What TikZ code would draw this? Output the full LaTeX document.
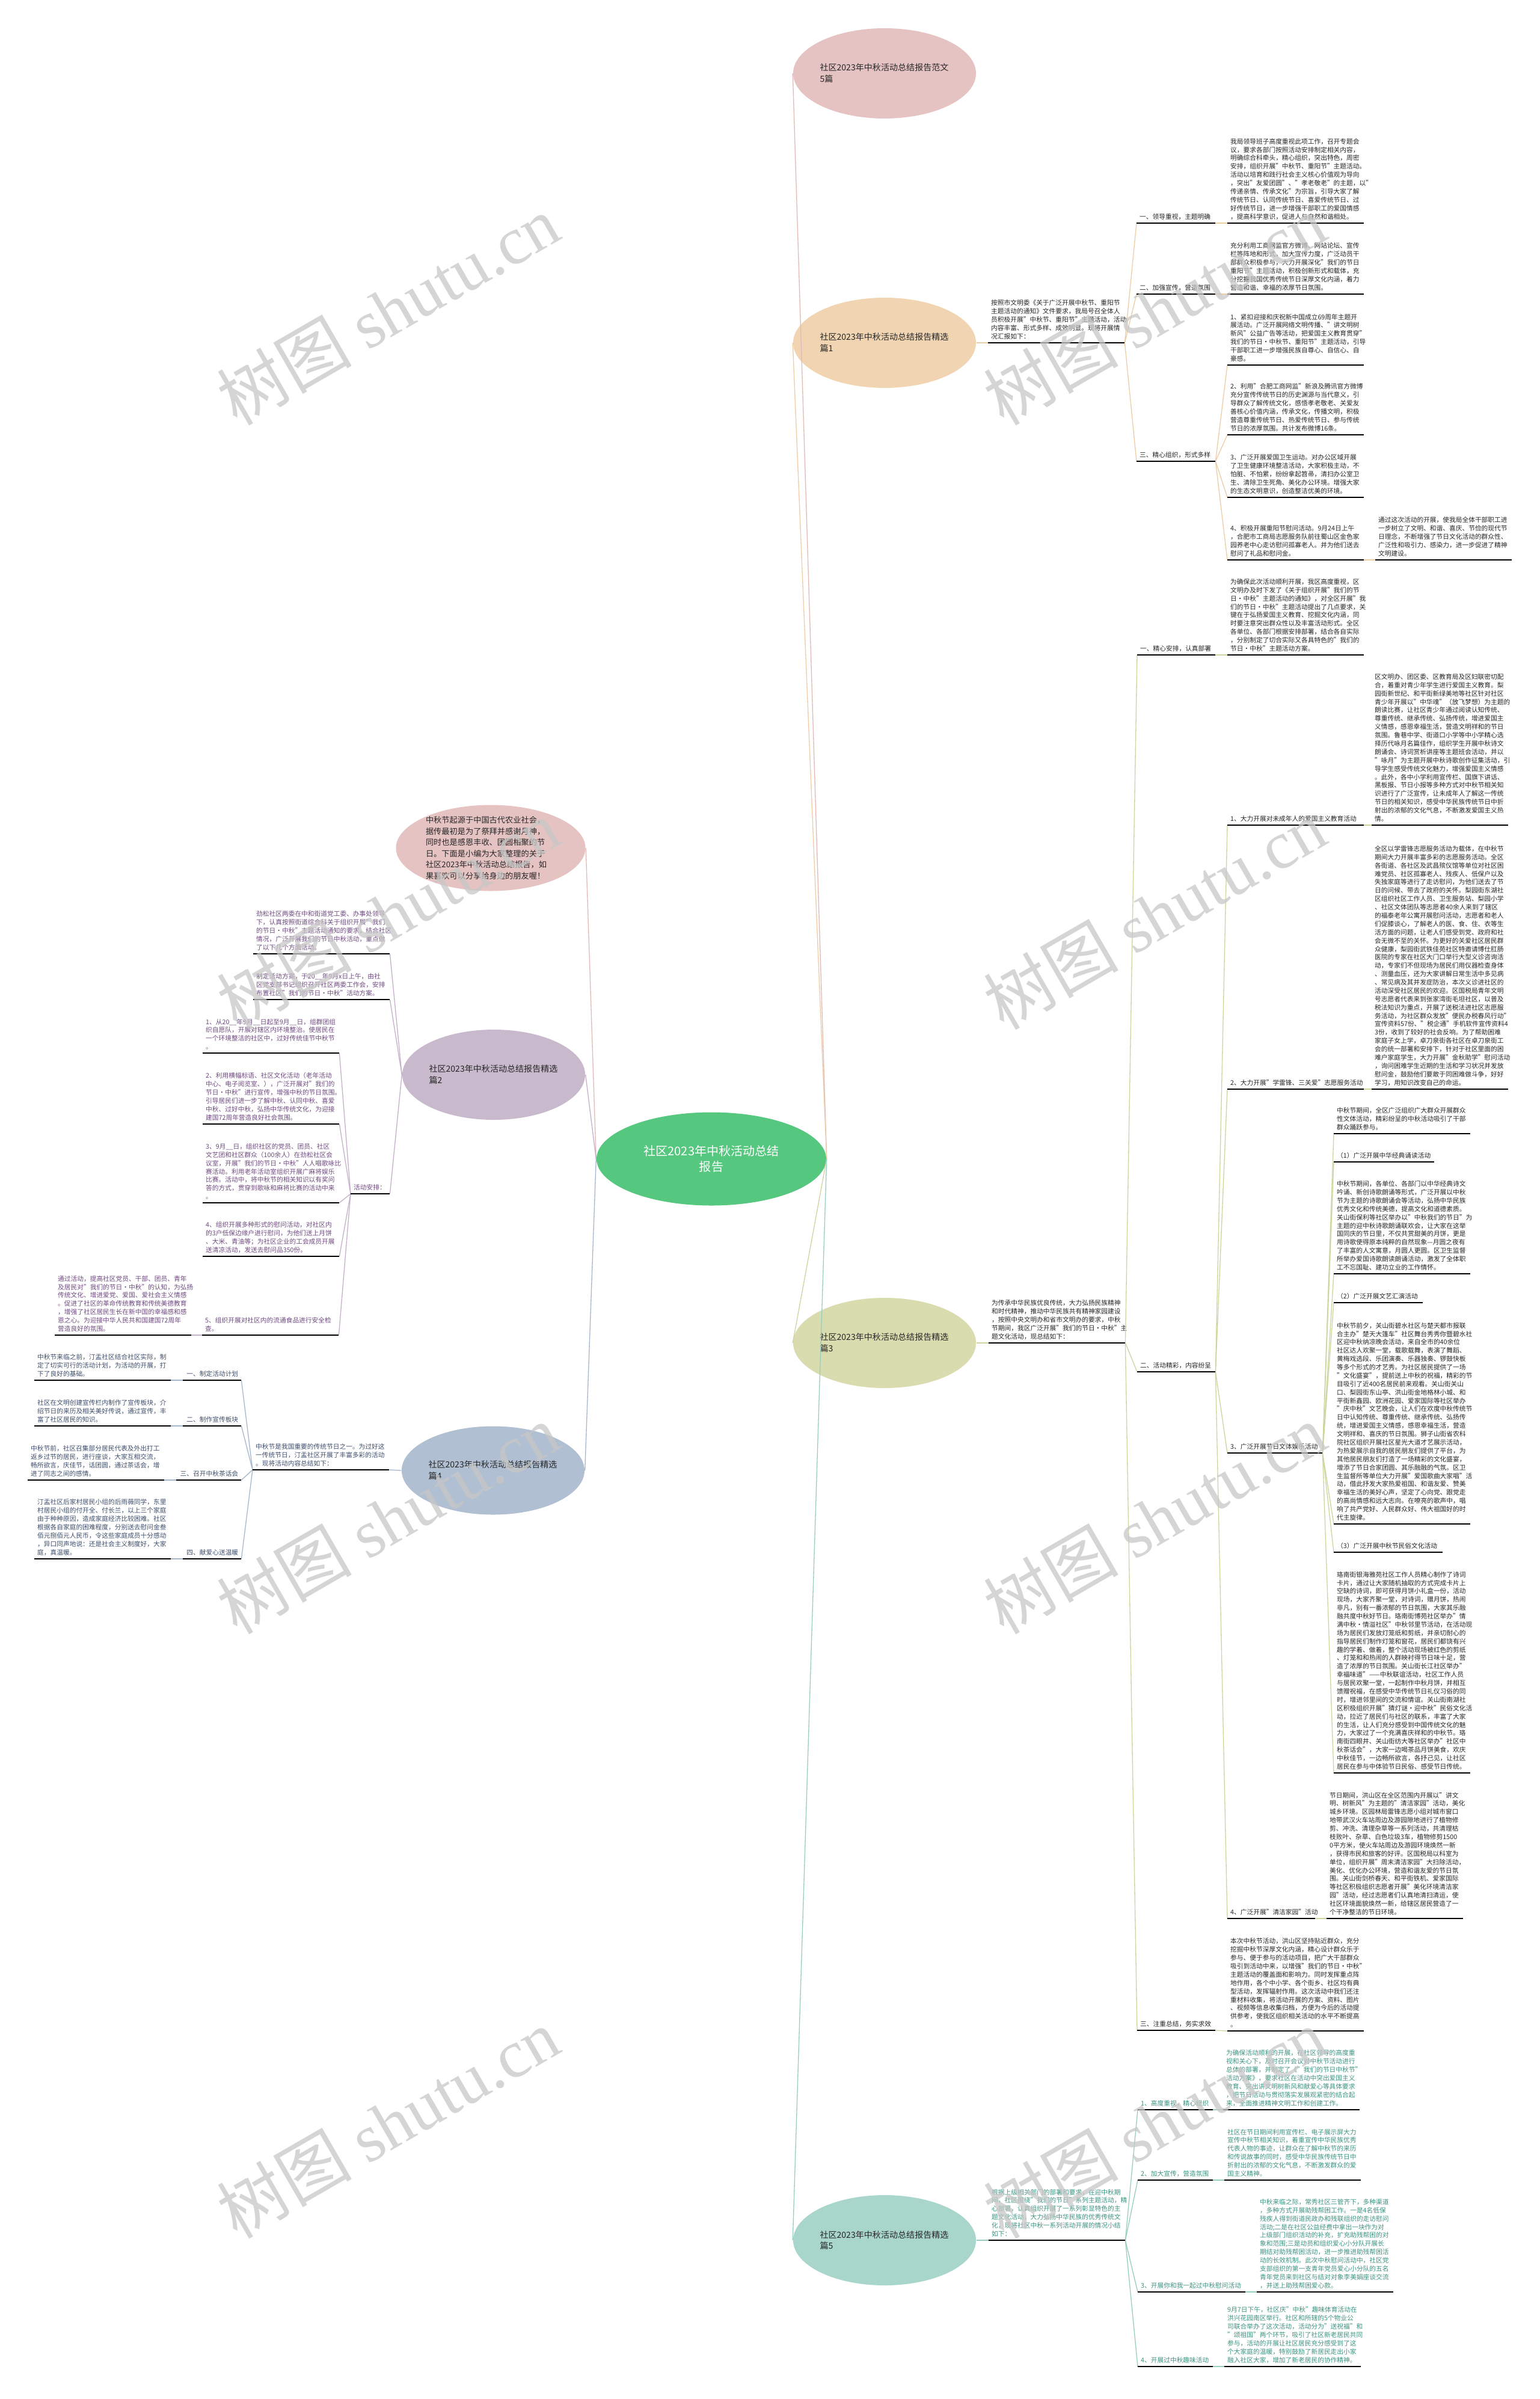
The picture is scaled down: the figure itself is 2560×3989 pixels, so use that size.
\documentclass[tikz,border=0pt]{standalone}
\usepackage{fontspec}
\setmainfont{Noto Sans CJK SC}
\newfontfamily\wmlatin{Liberation Serif}
\usepackage{tikz}
\usetikzlibrary{shapes.geometric}
\definecolor{cgreen}{HTML}{55C77F}
\definecolor{fpink}{HTML}{E6C3C3}
\definecolor{forange}{HTML}{F1D5B3}
\definecolor{folive}{HTML}{D9DCAE}
\definecolor{fteal}{HTML}{A8D6CB}
\definecolor{fpurple}{HTML}{C9B9CD}
\definecolor{fslate}{HTML}{B0BFD1}
\definecolor{lpink}{HTML}{E2B9B9}
\definecolor{lorange}{HTML}{EDCDA6}
\definecolor{lolive}{HTML}{CFD39E}
\definecolor{lteal}{HTML}{98CDBF}
\definecolor{lpurple}{HTML}{C4B1C9}
\definecolor{lslate}{HTML}{A6B6CB}
\definecolor{tdark}{HTML}{262626}
\definecolor{tteal}{HTML}{3C9480}
\definecolor{tpurple}{HTML}{6F4A80}
\definecolor{tslate}{HTML}{3E4E6C}

\begin{document}
\begin{tikzpicture}[x=0.1mm,y=-0.1mm,
    every node/.style={text=tdark},
    para/.style={anchor=south west,text width=#1,inner xsep=0.45mm,inner ysep=0.5mm,align=left,font=\fontsize{3.05pt}{3.95pt}\selectfont},
    para/.default=21.7mm,
    ttl/.style={ellipse,minimum width=30.4mm,minimum height=15mm,text width=21.5mm,inner sep=0pt,align=left,font=\fontsize{4pt}{5.35pt}\selectfont},
    uline/.style={line width=0.22mm,black},
    link/.style={draw=#1,line width=0.13mm},
    wmark/.style={rotate=30,text=black!22,text opacity=0.75,font=\fontsize{32pt}{32pt}\selectfont}]
    \fill[white] (0,0) rectangle (2560,3989);
    \useasboundingbox (0,0) rectangle (2560,3989);

    % centre and main branches
    \node[ellipse,fill=cgreen,minimum width=38.2mm,minimum height=15.5mm,text=white,align=center,font=\fontsize{5.7pt}{7.4pt}\selectfont] (c) at (1183,1927) {社区2023年中秋活动总结\\报告};
    \node[ttl,fill=fpink] (e0) at (1471,122) {社区2023年中秋活动总结报告范文\\5篇};
    \node[ttl,fill=forange] (e1) at (1471,570) {社区2023年中秋活动总结报告精选\\篇1};
    \node[ttl,fill=folive] (e3) at (1471,2233) {社区2023年中秋活动总结报告精选\\篇3};
    \node[ttl,fill=fteal] (e5) at (1471,3725) {社区2023年中秋活动总结报告精选\\篇5};
    \node[ttl,fill=fpink,minimum width=31.5mm,minimum height=14.3mm,text width=21.6mm,inner ysep=-1.2mm,font=\fontsize{3.76pt}{5.3pt}\selectfont] (eL) at (816,1410) {中秋节起源于中国古代农业社会，\\据传最初是为了祭拜并感谢月神，\\同时也是感恩丰收、团圆相聚的节\\日。下面是小编为大家整理的关于\\社区2023年中秋活动总结报告，如\\果喜欢可以分享给身边的朋友喔！};
    \node[ttl,fill=fpurple] (e2) at (821,1787) {社区2023年中秋活动总结报告精选\\篇2};
    \node[ttl,fill=fslate,minimum height=14.7mm] (e4) at (820,2445) {社区2023年中秋活动总结报告精选\\篇4};

    % 篇1
    \node[para] (i1) at (1643,570) {按照市文明委《关于广泛开展中秋节、重阳节\\主题活动的通知》文件要求，我局号召全体人\\员积极开展"中秋节、重阳节"主题活动，活动\\内容丰富、形式多样、成效明显。现将开展情\\况汇报如下：};
    \node[para=12.1mm] (a1) at (1890,371) {一、领导重视，主题明确};
    \node[para=12.1mm] (a2) at (1890,489) {二、加强宣传，营造氛围};
    \node[para=12.1mm] (a3) at (1890,767) {三、精心组织，形式多样};
    \node[para] (p11) at (2041,371) {我局领导班子高度重视此项工作，召开专题会\\议，要求各部门按照活动安排制定相关内容，\\明确综合科牵头，精心组织，突出特色，周密\\安排，组织开展"中秋节、重阳节"主题活动。\\活动以培育和践行社会主义核心价值观为导向\\，突出"友爱团圆"、"孝老敬老"的主题，以"\\传递亲情、传承文化"为宗旨，引导大家了解\\传统节日、认同传统节日、喜爱传统节日、过\\好传统节日，进一步增强干部职工的爱国情感\\，提高科学意识，促进人与自然和谐相处。};
    \node[para] (p12) at (2041,489) {充分利用工商网监官方微博、网站论坛、宣传\\栏等阵地和形式，加大宣传力度，广泛动员干\\部群众积极参与，大力开展深化"我们的节日\\重阳节"主题活动，积极创新形式和载体，充\\分挖掘我国优秀传统节日深厚文化内涵，着力\\营造和谐、幸福的浓厚节日氛围。};
    \node[para] (p13) at (2041,607) {1、紧扣迎接和庆祝新中国成立69周年主题开\\展活动。广泛开展网络文明传播、"讲文明树\\新风"公益广告等活动，把爱国主义教育贯穿"\\我们的节日·中秋节、重阳节"主题活动，引导\\干部职工进一步增强民族自尊心、自信心、自\\豪感。};
    \node[para] (p14) at (2041,723) {2、利用"合肥工商网监"新浪及腾讯官方微博\\充分宣传传统节日的历史渊源与当代意义，引\\导群众了解传统文化，感悟孝老敬老、关爱友\\善核心价值内涵，传承文化，传播文明，积极\\营造尊重传统节日、热爱传统节日、参与传统\\节日的浓厚氛围。共计发布微博16条。};
    \node[para] (p15) at (2041,827) {3、广泛开展爱国卫生运动。对办公区域开展\\了卫生健康环境整洁活动，大家积极主动，不\\怕脏、不怕累，纷纷拿起笤帚，清扫办公室卫\\生、清除卫生死角、美化办公环境。增强大家\\的生态文明意识，创造整洁优美的环境。};
    \node[para] (p16) at (2041,931) {4、积极开展重阳节慰问活动。9月24日上午\\，合肥市工商局志愿服务队前往蜀山区金色家\\园养老中心走访慰问孤寡老人。并为他们送去\\慰问了礼品和慰问金。};
    \node[para] (p17) at (2287,931) {通过这次活动的开展，使我局全体干部职工进\\一步树立了文明、和谐、喜庆、节俭的现代节\\日理念，不断增强了节日文化活动的群众性、\\广泛性和吸引力、感染力，进一步促进了精神\\文明建设。};

    % 篇3
    \node[para] (i3) at (1644,2233) {为传承中华民族优良传统，大力弘扬民族精神\\和时代精神，推动中华民族共有精神家园建设\\，按照中央文明办和省市文明办的要求，中秋\\节期间，我区广泛开展"我们的节日·中秋"主\\题文化活动，现总结如下：};
    \node[para=12mm] (b1) at (1891,1089) {一、精心安排，认真部署};
    \node[para=12mm] (b2) at (1891,2281) {二、活动精彩，内容纷呈};
    \node[para=12mm] (b3) at (1891,3376) {三、注重总结，务实求效};
    \node[para] (q1) at (2041,1089) {为确保此次活动顺利开展，我区高度重视，区\\文明办及时下发了《关于组织开展"我们的节\\日·中秋"主题活动的通知》，对全区开展"我\\们的节日·中秋"主题活动提出了几点要求，关\\键在于弘扬爱国主义教育、挖掘文化内涵，同\\时要注意突出群众性以及丰富活动形式。全区\\各单位、各部门根据安排部署，结合各自实际\\，分别制定了切合实际又各具特色的"我们的\\节日·中秋"主题活动方案。};
    \node[para] (q2) at (2041,1372) {1、大力开展对未成年人的爱国主义教育活动};
    \node[para] (q21) at (2281,1372) {区文明办、团区委、区教育局及区妇联密切配\\合，着重对青少年学生进行爱国主义教育。梨\\园街新世纪、和平街新绿美地等社区针对社区\\青少年开展以"中华魂"（放飞梦想）为主题的\\朗读比赛，让社区青少年通过阅读认知传统、\\尊重传统、继承传统、弘扬传统，增进爱国主\\义情感，感恩幸福生活，营造文明祥和的节日\\氛围。鲁巷中学、街道口小学等中小学精心选\\择历代咏月名篇佳作，组织学生开展中秋诗文\\朗诵会、诗词赏析讲座等主题班会活动，并以\\"咏月"为主题开展中秋诗歌创作征集活动，引\\导学生感受传统文化魅力，增强爱国主义情感\\。此外，各中小学利用宣传栏、国旗下讲话、\\黑板报、节日小报等多种方式对中秋节相关知\\识进行了广泛宣传，让未成年人了解这一传统\\节日的相关知识，感受中华民族传统节日中折\\射出的浓郁的文化气息，不断激发爱国主义热\\情。};
    \node[para] (q3) at (2041,1811) {2、大力开展"学雷锋、三关爱"志愿服务活动};
    \node[para] (q31) at (2281,1811) {全区以学雷锋志愿服务活动为载体，在中秋节\\期间大力开展丰富多彩的志愿服务活动。全区\\各街道、各社区及武昌殡仪馆等单位对社区困\\难党员、社区孤寡老人、残疾人、低保户以及\\失独家庭等进行了走访慰问，为他们送去了节\\日的问候、带去了政府的关怀。梨园街东湖社\\区组织社区工作人员、卫生服务站、梨园小学\\、社区文体团队等志愿者40余人来到了辖区\\的福泰老年公寓开展慰问活动，志愿者和老人\\们促膝谈心，了解老人的医、食、住、衣等生\\活方面的问题，让老人们感受到党、政府和社\\会无微不至的关怀。为更好的关爱社区居民群\\众健康，梨园街武铁佳苑社区特邀请博仕肛肠\\医院的专家在社区大门口举行大型义诊咨询活\\动，专家们不但现场为居民们用仪器检查身体\\、测量血压，还为大家讲解日常生活中多见病\\、常见病及其并发症防治，本次义诊进社区的\\活动深受社区居民的欢迎。区国税局青年文明\\号志愿者代表来到张家湾街毛坦社区，以普及\\税法知识为重点，开展了送税法进社区志愿服\\务活动，为社区群众发放"便民办税春风行动"\\宣传资料57份、"税企通"手机软件宣传资料4\\3份，收到了较好的社会反响。为了帮助困难\\家庭子女上学，卓刀泉街各社区在卓刀泉街工\\会的统一部署和安排下，针对于社区里面的困\\难户家庭学生，大力开展"金秋助学"慰问活动\\，询问困难学生近期的生活和学习状况并发放\\慰问金，鼓励他们要敢于同困难做斗争，好好\\学习，用知识改变自己的命运。};
    \node[para=14.8mm] (q4) at (2041,2416) {3、广泛开展节日文体娱乐活动};
    \node[para] (q41) at (2218,1885) {中秋节期间，全区广泛组织广大群众开展群众\\性文体活动，精彩纷呈的中秋活动吸引了干部\\群众踊跃参与。};
    \node[para=15.7mm] (q42) at (2218,1932) {（1）广泛开展中华经典诵读活动};
    \node[para] (q43) at (2218,2118) {中秋节期间，各单位、各部门以中华经典诗文\\吟诵、新创诗歌朗诵等形式，广泛开展以中秋\\节为主题的诗歌朗诵会等活动，弘扬中华民族\\优秀文化和传统美德，提高文化和道德素质。\\关山街保利等社区举办以"中秋我们的节日"为\\主题的迎中秋诗歌朗诵联欢会，让大家在这举\\国同庆的节日里，不仅共赏甜美的月饼，更是\\用诗歌使得原本纯粹的自然现象—月圆之夜有\\了丰富的人文寓意，月圆人更圆。区卫生监督\\所举办爱国诗歌朗读朗诵活动，激发了全体职\\工不忘国耻、建功立业的工作情怀。};
    \node[para=13.8mm] (q44) at (2218,2166) {（2）广泛开展文艺汇演活动};
    \node[para] (q45) at (2218,2534) {中秋节前夕，关山街碧水社区与楚天都市报联\\合主办"楚天大篷车"社区舞台秀秀你暨碧水社\\区迎中秋纳凉晚会活动，来自全市的40余位\\社区达人欢聚一堂，载歌载舞，表演了舞蹈、\\黄梅戏选段、乐团演奏、乐器独奏、锣鼓快板\\等多个形式的才艺秀。为社区居民提供了一场\\"文化盛宴"，提前送上中秋的祝福，精彩的节\\目吸引了近400名居民前来观看。关山街关山\\口、梨园街东山亭、洪山街金地格林小城、和\\平街新鑫园、欧洲花园、爱家国际等社区举办\\"庆中秋"文艺晚会，让人们在欢度中秋传统节\\日中认知传统、尊重传统、继承传统、弘扬传\\统，增进爱国主义情感，感恩幸福生活，营造\\文明祥和、喜庆的节日氛围。狮子山街省农科\\院社区组织开展社区星光大道才艺展示活动，\\为热爱展示自我的居民朋友们提供了平台，为\\其他居民朋友们打造了一场精彩的文化盛宴，\\增添了节日合家团圆、其乐融融的气氛。区卫\\生监督所等单位大力开展"爱国歌曲大家唱"活\\动，借此抒发大家热爱祖国、和谐友爱、赞美\\幸福生活的美好心声，坚定了心向党、跟党走\\的高尚情感和远大志向。在嘹亮的歌声中，唱\\响了共产党好、人民群众好、伟大祖国好的时\\代主旋律。};
    \node[para=17.1mm] (q46) at (2218,2581) {（3）广泛开展中秋节民俗文化活动};
    \node[para] (q47) at (2218,2948) {珞南街银海雅苑社区工作人员精心制作了诗词\\卡片，通过让大家随机抽取的方式完成卡片上\\空缺的诗词，即可获得月饼小礼盒一份，活动\\现场，大家齐聚一堂，对诗词，赠月饼，热闹\\非凡，别有一番浓郁的节日氛围，大家其乐融\\融共度中秋好节日。珞南街博苑社区举办"情\\满中秋·情溢社区"中秋邻里节活动，在活动现\\场为居民们发放灯笼纸和剪纸，并亲切耐心的\\指导居民们制作灯笼和窗花，居民们都饶有兴\\趣的学着、做着，整个活动现场被红色的剪纸\\、灯笼和和热闹的人群映衬得节日味十足，营\\造了浓厚的节日氛围。关山街长江社区举办"\\幸福味道"——中秋联谊活动，社区工作人员\\与居民欢聚一堂，一起制作中秋月饼，并相互\\馈赠祝福，在感受中华传统节日礼仪习俗的同\\时，增进邻里间的交流和情谊。关山街南湖社\\区积极组织开展"猜灯谜·迎中秋"民俗文化活\\动，拉近了居民们与社区的联系，丰富了大家\\的生活，让人们充分感受到中国传统文化的魅\\力，大家过了一个充满喜庆祥和的中秋节。珞\\南街四眼井、关山街纺大等社区举办"社区中\\秋茶话会"，大家一边喝茶品月饼美食，欢庆\\中秋佳节，一边畅所欲言，各抒己见，让社区\\居民在参与中体验节日民俗、感受节日传统。};
    \node[para=13.6mm] (q5) at (2041,3190) {4、广泛开展"清洁家园"活动};
    \node[para] (q51) at (2206,3190) {节日期间，洪山区在全区范围内开展以"讲文\\明、树新风"为主题的"清洁家园"活动，美化\\城乡环境。区园林局雷锋志愿小组对城市窗口\\地带武汉火车站周边及游园隙地进行了植物修\\剪、冲洗、清理杂草等一系列活动，共清理枯\\枝败叶、杂草、白色垃圾3车，植物修剪1500\\0平方米，使火车站周边及游园环境焕然一新\\，获得市民和旅客的好评。区国税局以科室为\\单位，组织开展"周末清洁家园"大扫除活动，\\美化、优化办公环境，营造和谐友爱的节日氛\\围。关山街剑桥春天、和平街铁机、爱家国际\\等社区积极组织志愿者开展"美化环境清洁家\\园"活动，经过志愿者们认真地清扫清运，使\\社区环境面貌焕然一新，给辖区居民营造了一\\个干净整洁的节日环境。};
    \node[para] (q6) at (2041,3377) {本次中秋节活动，洪山区坚持贴近群众，充分\\挖掘中秋节深厚文化内涵，精心设计群众乐于\\参与、便于参与的活动项目，把广大干部群众\\吸引到活动中来，以增强"我们的节日·中秋"\\主题活动的覆盖面和影响力。同时发挥重点阵\\地作用，各个中小学、各个街乡、社区均有典\\型活动，发挥辐射作用。这次活动中我们还注\\重材料收集，将活动开展的方案、资料、图片\\、视频等信息收集归档，方便为今后的活动提\\供参考，使我区组织相关活动的水平不断提高\\。};

    % 篇5
    \begin{scope}[every node/.append style={text=tteal}]
    \node[para] (i5) at (1644,3725) {根据上级相关部门的部署和要求，在迎中秋期\\间，社区围绕"我们的节日"系列主题活动，精\\心部署，认真组织开展了一系列彰显特色的主\\题文化活动，大力弘扬中华民族的优秀传统文\\化，现将社区中秋一系列活动开展的情况小结\\如下：};
    \node[para=11.5mm] (d1) at (1892,3508) {1、高度重视，精心组织};
    \node[para=11.5mm] (d2) at (1892,3625) {2、加大宣传，营造氛围};
    \node[para=16.9mm] (d3) at (1892,3811) {3、开展你和我一起过中秋慰问活动};
    \node[para=11.5mm] (d4) at (1892,3935) {4、开展过中秋趣味活动};
    \node[para] (r1) at (2034,3508) {为确保活动顺利的开展，在社区领导的高度重\\视和关心下，及时召开会议对中秋节活动进行\\总体的部署，并制定了《"我们的节日中秋节"\\活动方案》，要求社区在活动中突出爱国主义\\教育、突出讲文明树新风和献爱心等具体要求\\，把节日活动与贯彻落实发展观紧密的结合起\\来，全面推进精神文明工作和创建工作。};
    \node[para] (r2) at (2036,3625) {社区在节日期间利用宣传栏、电子展示屏大力\\宣传中秋节相关知识，着重宣传中华民族优秀\\代表人物的事迹，让群众在了解中秋节的来历\\和传说故事的同时，感受中华民族传统节日中\\折射出的浓郁的文化气息，不断激发群众的爱\\国主义精神。};
    \node[para] (r3) at (2090,3811) {中秋来临之际，常秀社区三管齐下，多种渠道\\，多种方式开展助残帮困工作。一是4名低保\\残疾人得到街道民政办和残联组织的走访慰问\\活动;二是在社区公益经费中拿出一块作为对\\上级部门组织活动的补充，扩充助残帮困的对\\象和范围;三是动员和组织爱心小分队开展长\\期结对助残帮困活动，进一步推进助残帮困活\\动的长效机制。此次中秋慰问活动中，社区党\\支部组织的第一支青年党员爱心小分队的五名\\青年党员来到社区与结对对象李美娟座谈交流\\，并送上助残帮困爱心款。};
    \node[para] (r4) at (2036,3935) {9月7日下午，社区庆"中秋"趣味体育活动在\\洪兴花园南区举行。社区和所辖的5个物业公\\司联合举办了这次活动，活动分为"送祝福"和\\"颂祖国"两个环节，吸引了社区新老居民共同\\参与，活动的开展让社区居民充分感受到了这\\个大家庭的温暖，特别鼓励了新居民走出小家\\融入社区大家，增加了新老居民的协作精神。};
    \end{scope}

    % 篇2
    \begin{scope}[every node/.append style={text=tpurple}]
    \node[para] (f1) at (421,1586) {劲松社区两委在中和街道党工委、办事处领导\\下，认真按照街道综合科关于组织开展"我们\\的节日·中秋"主题活动通知的要求，结合社区\\情况，广泛开展我们的节日中秋活动，重点做\\了以下几个方面活动。};
    \node[para] (f2) at (421,1662) {制定活动方案，于20\_\_年9月x日上午，由社\\区党支部书记组织召开社区两委工作会，安排\\布置社区"我们的节日·中秋"活动方案。};
    \node[para=5.5mm] (f3) at (583,1985) {活动安排：};
    \node[para] (g1) at (337,1751) {1、从20\_\_年9月\_\_日起至9月\_\_日，组群团组\\织自愿队，开展对辖区内环境整治。使居民在\\一个环境整洁的社区中，过好传统佳节中秋节\\。};
    \node[para] (g2) at (337,1869) {2、利用横幅标语、社区文化活动（老年活动\\中心、电子阅览室、），广泛开展对"我们的\\节日·中秋"进行宣传，增强中秋的节日氛围。\\引导居民们进一步了解中秋、认同中秋、喜爱\\中秋、过好中秋，弘扬中华传统文化，为迎接\\建国72周年营造良好社会氛围。};
    \node[para] (g3) at (337,2000) {3、9月\_\_日，组织社区的党员、团员、社区\\文艺团和社区群众（100余人）在劲松社区会\\议室，开展"我们的节日·中秋"人人唱歌咏比\\赛活动。利用老年活动室组织开展广麻将娱乐\\比赛。活动中，将中秋节的相关知识以有奖问\\答的方式，贯穿到歌咏和麻将比赛的活动中来\\。};
    \node[para] (g4) at (337,2089) {4、组织开展多种形式的慰问活动，对社区内\\的3户低保边缘户进行慰问，为他们送上月饼\\、大米、青油等；为社区企业的工会成员开展\\送清凉活动，发送去慰问品350份。};
    \node[para] (g5) at (336,2220) {5、组织开展对社区内的流通食品进行安全检\\查。};
    \node[para] (g6) at (91,2220) {通过活动，提高社区党员、干部、团员、青年\\及居民对"我们的节日·中秋"的认知，为弘扬\\传统文化、增进爱党、爱国、爱社会主义情感\\。促进了社区的革命传统教育和传统美德教育\\，增强了社区居民生长在新中国的幸福感和感\\恩之心。为迎接中华人民共和国建国72周年\\营造良好的氛围。};
    \end{scope}

    % 篇4
    \begin{scope}[every node/.append style={text=tslate}]
    \node[para] (h0) at (420,2444) {中秋节是我国重要的传统节日之一。为过好这\\一传统节日，汀盂社区开展了丰富多彩的活动\\。现将活动内容总结如下：};
    \node[para=8.7mm,align=right] (h1) at (304,2295) {一、制定活动计划};
    \node[para=8.7mm,align=right] (h2) at (304,2371) {二、制作宣传板块};
    \node[para=9.8mm,align=right] (h3) at (293,2461) {三、召开中秋茶话会};
    \node[para=8.7mm,align=right] (h4) at (304,2592) {四、献爱心送温暖};
    \node[para] (k1) at (57,2295) {中秋节来临之前，汀盂社区结合社区实际，制\\定了切实可行的活动计划，为活动的开展，打\\下了良好的基础。};
    \node[para] (k2) at (57,2371) {社区在文明创建宣传栏内制作了宣传板块，介\\绍节日的来历及相关美好传说，通过宣传，丰\\富了社区居民的知识。};
    \node[para] (k3) at (46,2461) {中秋节前，社区召集部分居民代表及外出打工\\返乡过节的居民，进行座谈，大家互相交流，\\畅所欲言，庆佳节，话团圆，通过茶话会，增\\进了同志之间的感情。};
    \node[para] (k4) at (57,2592) {汀盂社区后家村居民小组的后雨薇同学，东里\\村居民小组的付开全、付长兰，以上三个家庭\\由于种种原因，造成家庭经济比较困难。社区\\根据各自家庭的困难程度，分别送去慰问金叁\\佰元捌佰元人民币，令这些家庭成员十分感动\\，异口同声地说：还是社会主义制度好，大家\\庭，真温暖。};
    \end{scope}

    % connectors
    \draw[link=lpink] (c.east) -- (e0.west);
    \draw[link=lorange] (c.east) -- (e1.west);
    \draw[link=lolive] (c.east) -- (e3.west);
    \draw[link=lteal] (c.east) -- (e5.west);
    \draw[link=lpink] (c.west) -- (eL.east);
    \draw[link=lpurple] (c.west) -- (e2.east);
    \draw[link=lslate] (c.west) -- (e4.east);

    \draw[link=lorange] (e1.east) -- (i1.south west);
    \foreach \a/\b in {i1/a1,i1/a2,i1/a3,a1/p11,a2/p12,a3/p13,a3/p14,a3/p15,a3/p16,p16/p17}
        \draw[link=lorange] (\a.south east) -- (\b.south west);

    \draw[link=lolive] (e3.east) -- (i3.south west);
    \foreach \a/\b in {i3/b1,i3/b2,i3/b3,b1/q1,b2/q2,b2/q3,b2/q4,b2/q5,b3/q6,q2/q21,q3/q31,q4/q41,q4/q42,q4/q43,q4/q44,q4/q45,q4/q46,q4/q47,q5/q51}
        \draw[link=lolive] (\a.south east) -- (\b.south west);

    \draw[link=lteal] (e5.east) -- (i5.south west);
    \foreach \a/\b in {i5/d1,i5/d2,i5/d3,i5/d4,d1/r1,d2/r2,d3/r3,d4/r4}
        \draw[link=lteal] (\a.south east) -- (\b.south west);

    \foreach \b in {f1,f2,f3}
        \draw[link=lpurple] (e2.west) -- (\b.south east);
    \foreach \a/\b in {f3/g1,f3/g2,f3/g3,f3/g4,f3/g5,g5/g6}
        \draw[link=lpurple] (\a.south west) -- (\b.south east);

    \draw[link=lslate] (e4.west) -- (h0.south east);
    \foreach \a/\b in {h0/h1,h0/h2,h0/h3,h0/h4,h1/k1,h2/k2,h3/k3,h4/k4}
        \draw[link=lslate] (\a.south west) -- (\b.south east);

    % underlines
    \foreach \n in {i1,a1,a2,a3,p11,p12,p13,p14,p15,p16,p17,i3,b1,b2,b3,q1,q2,q21,q3,q31,q4,q41,q42,q43,q44,q45,q46,q47,q5,q51,q6,i5,d1,d2,d3,d4,r1,r2,r3,r4,f1,f2,f3,g1,g2,g3,g4,g5,g6,h0,h1,h2,h3,h4,k1,k2,k3,k4}
        \draw[uline] (\n.south west) -- (\n.south east);

    % watermarks
    \foreach \wx in {645,1920}
        \foreach \wy in {515,1520,2525,3530}
            \node[wmark] at (\wx,\wy) {树图 {\wmlatin shutu.cn}};
\end{tikzpicture}
\end{document}
